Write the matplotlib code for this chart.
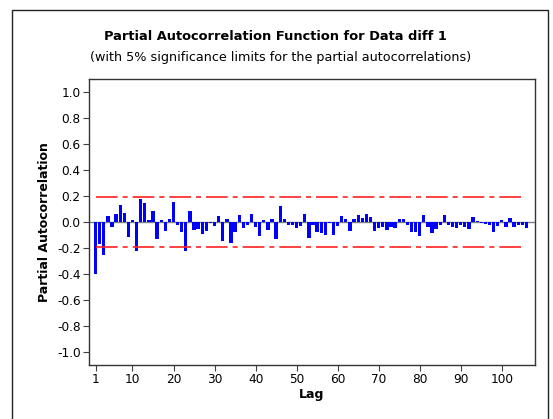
import matplotlib
matplotlib.use("Agg")
import matplotlib.pyplot as plt
from matplotlib.patches import Rectangle

lags = list(range(1, 107))
pacf = [
    -0.40, -0.167, -0.257, 0.044, -0.04, 0.062, 0.134, 0.07, -0.116, 0.013,
    -0.22, 0.18, 0.144, 0.013, 0.085, -0.13, 0.015, -0.067, 0.023, 0.15,
    -0.02, -0.08, -0.22, 0.082, -0.06, -0.054, -0.095, -0.067, -0.005, -0.03,
    0.046, -0.15, 0.023, -0.16, -0.077, 0.054, -0.05, -0.02, 0.064, -0.04,
    -0.11, 0.018, -0.06, 0.023, -0.128, 0.126, 0.023, -0.02, -0.02, -0.05,
    -0.03, 0.062, -0.123, -0.02, -0.077, -0.085, -0.098, -0.005, -0.098, -0.03,
    0.044, 0.026, -0.067, 0.026, 0.054, 0.033, 0.062, 0.04, -0.067, -0.046,
    -0.04, -0.06, -0.04, -0.046, 0.023, 0.026, -0.02, -0.08, -0.075, -0.105,
    0.05, -0.04, -0.085, -0.057, -0.02, 0.05, -0.02, -0.035, -0.046, -0.02,
    -0.035, -0.054, 0.036, 0.008, -0.008, -0.013, -0.026, -0.077, -0.028, 0.018,
    -0.04, 0.028, -0.04, -0.026, -0.02, -0.044,
]
sig_limit = 0.19
x_ticks = [1, 10, 20, 30, 40, 50, 60, 70, 80, 90, 100]
y_ticks = [-1.0, -0.8, -0.6, -0.4, -0.2, 0.0, 0.2, 0.4, 0.6, 0.8, 1.0]

plt.rcParams['font.family'] = ['DejaVu Sans']
fig = plt.figure(figsize=(5.53, 4.19), dpi=100)
ax = fig.add_axes([89/553, 1 - 365/419, (535-89)/553, (365-79)/419])

ax.axhline(0, color='#808080', lw=1.0, zorder=1)
ax.bar(lags, pacf, width=0.8, color='#0000ff', zorder=2)
ax.plot([lags[0], lags[-1]], [sig_limit, sig_limit], color='#ff2020', lw=1.2,
        linestyle=(0, (13, 3, 3, 3)), zorder=3)
ax.plot([lags[0], lags[-1]], [-sig_limit, -sig_limit], color='#ff2020', lw=1.2,
        linestyle=(0, (13, 3, 3, 3)), zorder=3)

ax.set_xlim(-0.6, 108.1)
ax.set_ylim(-1.1, 1.1)
ax.set_xticks(x_ticks)
ax.set_yticks(y_ticks)
ax.set_yticklabels([f"{v:.1f}" for v in y_ticks])
ax.tick_params(axis='both', direction='out', length=4, width=0.8, labelsize=8.7,
               color='#404040', pad=2)
for s in ax.spines.values():
    s.set_color('#333333')
    s.set_linewidth(1.0)

ax.set_xlabel('Lag', fontsize=9, fontweight='bold', labelpad=1)
ax.set_ylabel('Partial Autocorrelation', fontsize=9, fontweight='bold', labelpad=4)

fig.text(275/553, 1 - 37/419, 'Partial Autocorrelation Function for Data diff 1',
         ha='center', va='center', fontsize=9.4, fontweight='bold')
fig.text(281/553, 1 - 58/419, '(with 5% significance limits for the partial autocorrelations)',
         ha='center', va='center', fontsize=9.2)

fig.patches.append(Rectangle((12/553, -0.05), (548-12)/553, 1.05 - 10/419,
                             transform=fig.transFigure, fill=False,
                             edgecolor='#222222', lw=1.0))

fig.savefig('out.png', dpi=100)
